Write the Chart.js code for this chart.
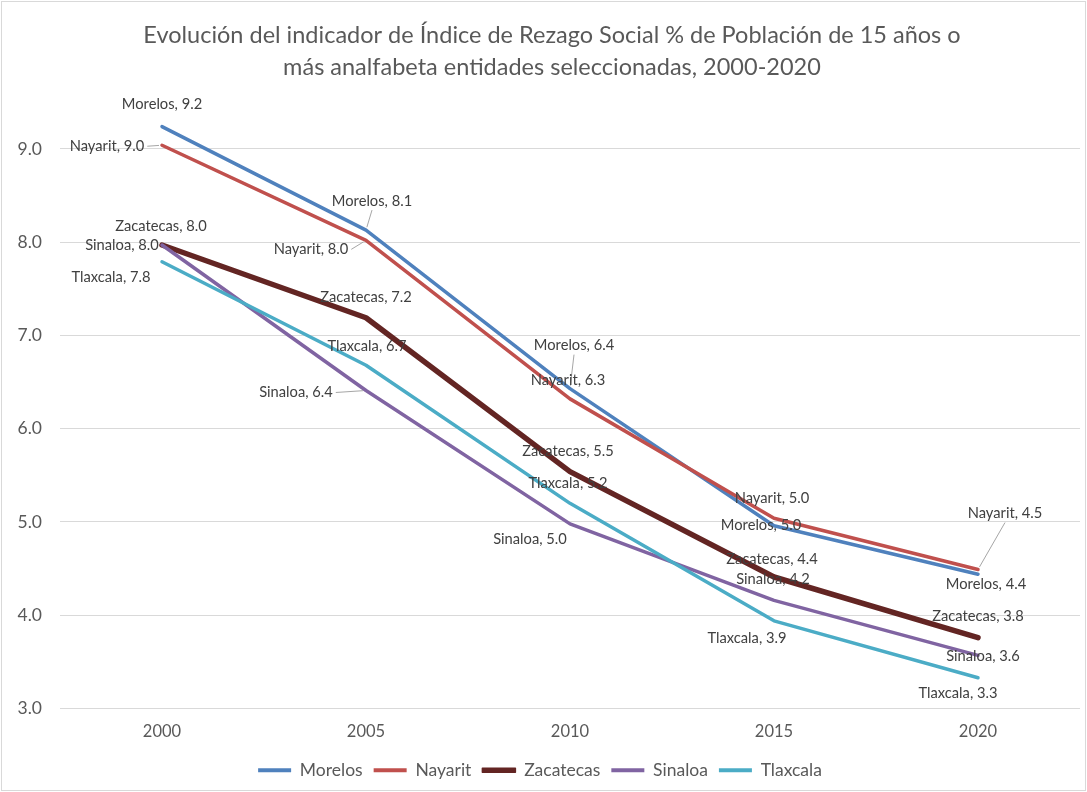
<!DOCTYPE html>
<html>
<head>
<meta charset="utf-8">
<script src="https://cdn.jsdelivr.net/npm/chart.js@4.4.0/dist/chart.umd.min.js"></script>
<style>
  body { margin: 0; background: #fff; }
  canvas { display: block; }
</style>
</head>
<body>
<canvas id="chart" width="1087" height="792"></canvas>
<script>
// Years on the category axis
const years = ['2000', '2005', '2010', '2015', '2020'];

// % of population 15+ who are illiterate
const morelos = [9.24, 8.13, 6.43, 4.96, 4.44];
const nayarit = [9.04, 8.02, 6.32, 5.04, 4.49];
const zacatecas = [7.97, 7.19, 5.54, 4.41, 3.76];
const sinaloa = [7.97, 6.41, 4.98, 4.16, 3.57];
const tlaxcala = [7.79, 6.68, 5.2, 3.94, 3.33];

const seriesNames = ['Morelos', 'Nayarit', 'Zacatecas', 'Sinaloa', 'Tlaxcala'];

const titleLines = [
    'Evolución del indicador de Índice de Rezago Social % de Población de 15 años o',
    'más analfabeta entidades seleccionadas, 2000-2020'
];

// Y axis
const yMin = 3;
const yMax = 9.6;

const FONT = 'Lato, "Liberation Sans", sans-serif';
const TEXT = '#595959';

// Where each data label sits relative to its point [dx, dy, leader?]
const labelOffsets = [
    [[0, -22], [6, -29, 1], [4, -43, 1], [-13, 0], [8, 10]],
    [[-55, 1, 1], [-55, 9, 1], [-2, -19], [-2, -20], [27, -56, 1]],
    [[-1, -19], [0, -20], [-2, -20], [-2, -18], [0, -21]],
    [[-40, 0], [-70, 2, 1], [-40, 15], [-1, -21], [5, 1]],
    [[-51, 15], [1, -19], [-2, -20], [-27, 17], [-20, 16]]
];

function makeSet(label, data, color, width, order) {
    return {
        label: label,
        data: data,
        borderColor: color,
        backgroundColor: color,
        borderWidth: width,
        pointRadius: 0,
        pointHoverRadius: 0,
        tension: 0,
        borderJoinStyle: 'round',
        borderCapStyle: 'round',
        order: order
    };
}

// Light border round the whole chart, plus the title
const frame = {
    id: 'frame',
    beforeDraw(chart) {
        const ctx = chart.ctx;
        ctx.save();
        ctx.fillStyle = '#fff';
        ctx.fillRect(0, 0, chart.width, chart.height);
        ctx.strokeStyle = '#D9D9D9';
        ctx.lineWidth = 1;
        ctx.strokeRect(1.5, 1.5, chart.width - 3, chart.height - 3);

        ctx.fillStyle = TEXT;
        ctx.font = '23.5px ' + FONT;
        ctx.textAlign = 'center';
        ctx.textBaseline = 'middle';
        titleLines.forEach((line, i) => ctx.fillText(line, 552, 35 + i * 32));
        ctx.restore();
    }
};

// Excel style "Series, value" labels
const dataLabels = {
    id: 'dataLabels',
    afterDatasetsDraw(chart) {
        const ctx = chart.ctx;
        ctx.save();
        ctx.font = '14.7px ' + FONT;
        ctx.textAlign = 'center';
        ctx.textBaseline = 'middle';
        chart.data.datasets.forEach((ds, di) => {
            const meta = chart.getDatasetMeta(di);
            meta.data.forEach((pt, i) => {
                const off = labelOffsets[di][i];
                const text = ds.label + ', ' + ds.data[i].toFixed(1);
                const cx = pt.x + off[0];
                const cy = pt.y + off[1];
                if (off[2]) {
                    const w = ctx.measureText(text).width;
                    let sx, sy;
                    if (off[0] < -20 && Math.abs(off[1]) < 15) {
                        sx = cx + w / 2 + 3;
                        sy = cy;
                    } else {
                        sx = cx;
                        sy = cy + 9;
                    }
                    const dx = pt.x - sx, dy = pt.y - sy;
                    const len = Math.sqrt(dx * dx + dy * dy);
                    ctx.strokeStyle = '#A6A6A6';
                    ctx.lineWidth = 1;
                    ctx.beginPath();
                    ctx.moveTo(sx, sy);
                    ctx.lineTo(pt.x - dx / len * 3, pt.y - dy / len * 3);
                    ctx.stroke();
                }
                ctx.fillStyle = '#404040';
                ctx.fillText(text, cx, cy);
            });
        });
        ctx.restore();
    }
};

new Chart(document.getElementById('chart'), {
    type: 'line',
    data: {
        labels: years,
        datasets: [
            makeSet(seriesNames[0], morelos, '#4F81BD', 3.5, 5),
            makeSet(seriesNames[1], nayarit, '#C0504D', 3.5, 4),
            makeSet(seriesNames[2], zacatecas, '#632523', 5.5, 3),
            makeSet(seriesNames[3], sinaloa, '#8064A2', 3.5, 2),
            makeSet(seriesNames[4], tlaxcala, '#4BACC6', 3.5, 1)
        ]
    },
    options: {
        responsive: false,
        animation: false,
        layout: { padding: { left: 0, right: 7, top: 93, bottom: 3 } },
        plugins: {
            title: { display: false },
            legend: {
                position: 'bottom',
                labels: {
                    color: TEXT,
                    font: { family: FONT, size: 17.5 },
                    boxWidth: 33,
                    boxHeight: 4,
                    padding: 11,
                    sort: (a, b) => a.datasetIndex - b.datasetIndex,
                    generateLabels(chart) {
                        return Chart.defaults.plugins.legend.labels.generateLabels(chart).map(item => {
                            const ds = chart.data.datasets[item.datasetIndex];
                            item.fillStyle = item.strokeStyle;
                            item.lineWidth = ds.borderWidth > 4 ? 1.5 : 0;
                            return item;
                        });
                    }
                }
            },
            tooltip: { enabled: false }
        },
        scales: {
            x: {
                offset: true,
                grid: { display: false, drawTicks: false },
                border: { display: false },
                ticks: { color: TEXT, font: { family: FONT, size: 16.5 }, padding: 13 },
                afterFit(scale) { scale.height = 42; }
            },
            y: {
                min: yMin,
                max: yMax,
                grid: { color: '#D9D9D9', lineWidth: 1, drawTicks: false },
                border: { display: false },
                ticks: {
                    stepSize: 1,
                    color: TEXT,
                    font: { family: FONT, size: 17.5 },
                    padding: 18,
                    callback: v => v.toFixed(1)
                },
                afterBuildTicks(axis) {
                    axis.ticks = axis.ticks.filter(t => Number.isInteger(t.value));
                },
                afterFit(scale) { scale.width = 60; }
            }
        }
    },
    plugins: [frame, dataLabels]
});
</script>
</body>
</html>
